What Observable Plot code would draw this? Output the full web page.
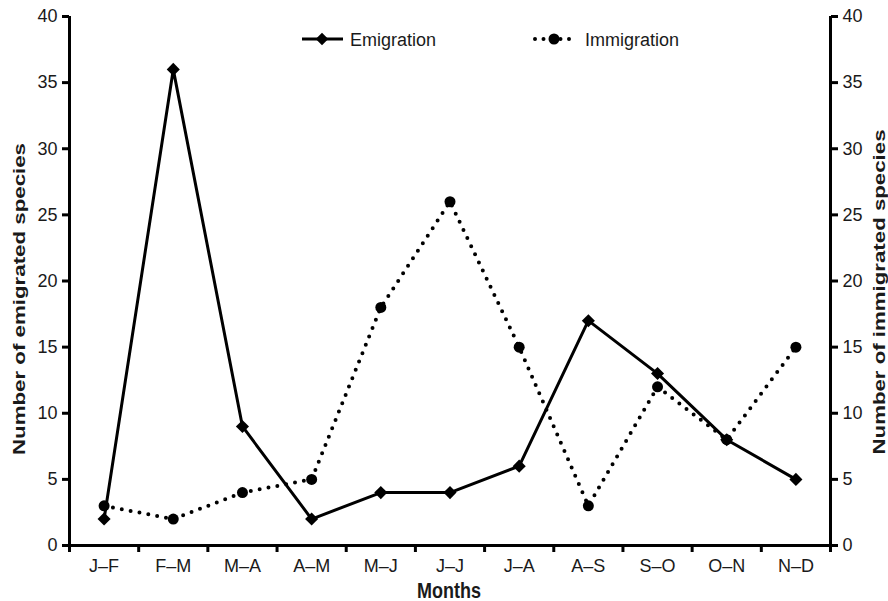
<!DOCTYPE html>
<html><head><meta charset="utf-8">
<script src="https://cdn.jsdelivr.net/npm/d3@7"></script>
<script src="https://cdn.jsdelivr.net/npm/@observablehq/plot@0.6"></script>
<style>body{margin:0;background:#fff} #chart{width:888px;height:601px}</style>
</head><body><div id="chart"></div>
<script>
const months = ["J–F","F–M","M–A","A–M","M–J","J–J","J–A","A–S","S–O","O–N","N–D"];
const emigration = [2,36,9,2,4,4,6,17,13,8,5];
const immigration = [3,2,4,5,18,26,15,3,12,8,15];
const yTicks = [0,5,10,15,20,25,30,35,40];
const seriesNames = ["Emigration","Immigration"];
const leftLabel = "Number of emigrated species";
const rightLabel = "Number of immigrated species";
const xLabel = "Months";

const emRows = months.map((m,i)=>({pos:i+0.5, month:m, value:emigration[i]}));
const imRows = months.map((m,i)=>({pos:i+0.5, month:m, value:immigration[i]}));
const boundaries = d3.range(months.length+1);
const centers = months.map((m,i)=>i+0.5);

const plot = Plot.plot({
  width:888, height:601, marginTop:16, marginBottom:56, marginLeft:69, marginRight:58,
  style:{fontFamily:"'Liberation Sans', Arial, sans-serif", fontSize:"18px", color:"#1a1a1a", background:"#fff"},
  x:{domain:[0, months.length], axis:null, label:null},
  y:{domain:[0,40], axis:null, label:null},
  marks:[
    Plot.axisY(yTicks, {anchor:"left", tickSize:7, tickPadding:5, strokeWidth:3, stroke:"#000", label:null}),
    Plot.axisY(yTicks, {anchor:"right", tickSize:7, tickPadding:5, strokeWidth:3, stroke:"#000", label:null}),
    Plot.axisX(boundaries, {anchor:"bottom", tickSize:7, strokeWidth:3, stroke:"#000", tickFormat:()=>"", label:null}),
    Plot.axisX(centers, {anchor:"bottom", tickSize:0, tickPadding:14, tickFormat:(d)=>months[Math.floor(d)], label:null}),
    Plot.ruleX([0, months.length], {y1:0, y2:40, strokeWidth:3, stroke:"#000"}),
    Plot.ruleY([0], {strokeWidth:3, stroke:"#000"}),
    Plot.lineY(imRows, {x:"pos", y:"value", stroke:"#000", strokeWidth:4, strokeDasharray:"0 9", strokeLinecap:"round"}),
    Plot.dot(imRows, {x:"pos", y:"value", r:5.5, fill:"#000", symbol:"circle"}),
    Plot.lineY(emRows, {x:"pos", y:"value", stroke:"#000", strokeWidth:3}),
    Plot.dot(emRows, {x:"pos", y:"value", r:5.9, fill:"#000", symbol:"diamond2"})
  ]
});
document.getElementById("chart").appendChild(plot);

const svg = d3.select(plot);
const font = "'Liberation Sans', Arial, sans-serif";
// legend
const lg = svg.append("g").attr("font-family", font).attr("font-size", 18).attr("fill", "#1a1a1a").attr("text-anchor","start");
lg.append("line").attr("x1",302).attr("x2",343).attr("y1",39).attr("y2",39).attr("stroke","#000").attr("stroke-width",3);
lg.append("path").attr("d", d3.symbol(d3.symbolDiamond2, 100)()).attr("transform","translate(322,39)").attr("fill","#000");
lg.append("text").attr("x",350).attr("y",45.5).text(seriesNames[0]);
lg.append("line").attr("x1",535).attr("x2",573).attr("y1",39).attr("y2",39).attr("stroke","#000").attr("stroke-width",4).attr("stroke-dasharray","0 8.5").attr("stroke-linecap","round");
lg.append("circle").attr("cx",554).attr("cy",39).attr("r",5.5).attr("fill","#000");
lg.append("text").attr("x",585).attr("y",45.5).text(seriesNames[1]);
// axis titles
const tg = svg.append("g").attr("font-family", font).attr("font-weight","bold").attr("fill","#1a1a1a").attr("text-anchor","middle");
tg.append("text").attr("transform","translate(25,299) rotate(-90)").attr("font-size",16).attr("textLength",312).attr("lengthAdjust","spacingAndGlyphs").text(leftLabel);
tg.append("text").attr("transform","translate(885,292) rotate(-90)").attr("font-size",16).attr("textLength",325).attr("lengthAdjust","spacingAndGlyphs").text(rightLabel);
tg.append("text").attr("transform","translate(449,598) scale(1,1.25)").attr("font-size",18).text(xLabel);
</script>
</body></html>
